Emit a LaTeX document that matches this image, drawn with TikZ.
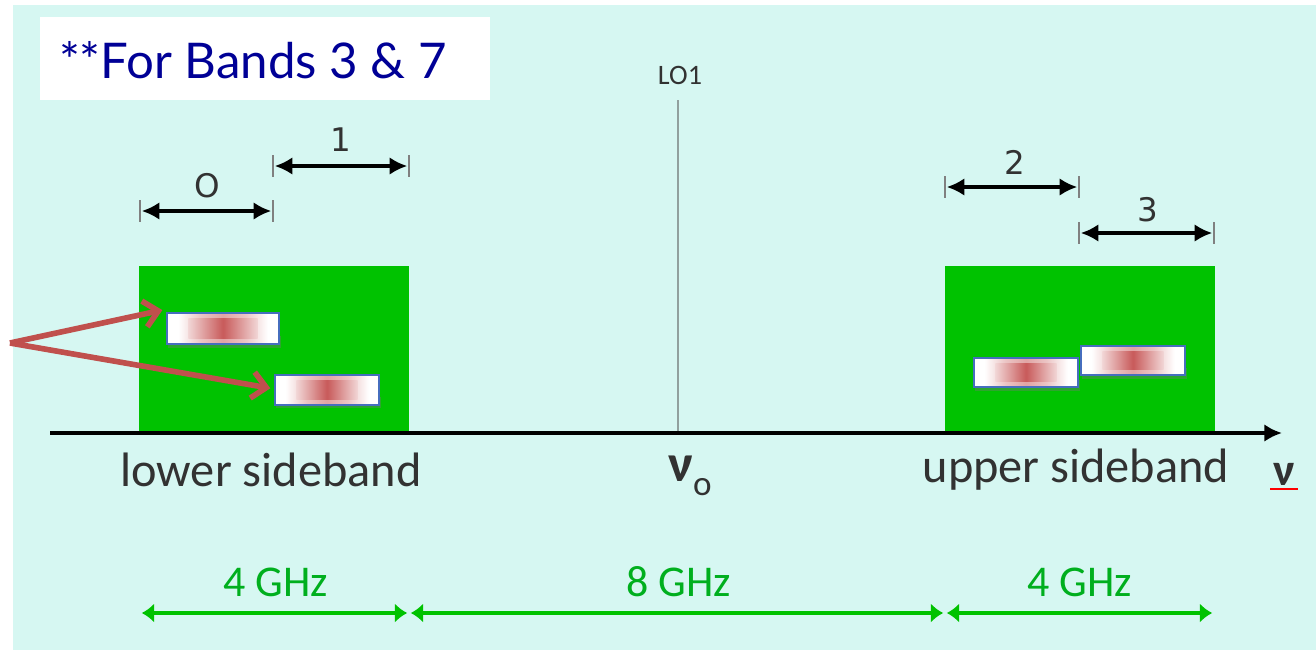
\documentclass[tikz,border=0pt]{standalone}
\usepackage{fontspec}
\setmainfont{Carlito}
\newfontfamily\titlefont{Lato}
\newfontfamily\numfont{DejaVu Sans}
\usetikzlibrary{arrows.meta}
\definecolor{bgcyan}{RGB}{214,247,242}
\definecolor{bandgreen}{RGB}{0,194,0}
\definecolor{ghzgreen}{RGB}{0,175,30}
\definecolor{titleblue}{RGB}{0,0,150}
\definecolor{arrowred}{RGB}{192,80,77}
\definecolor{boxblue}{RGB}{70,110,190}
\definecolor{lored}{RGB}{200,90,90}
\definecolor{logray}{RGB}{145,160,158}
\definecolor{txtgray}{RGB}{50,50,50}
\definecolor{shadowgreen}{RGB}{45,165,45}
\pgfdeclarehorizontalshading{sigouter}{100bp}{color(0bp)=(white); color(30bp)=(white); color(40bp)=(lored!35); color(50bp)=(lored!55); color(60bp)=(lored!35); color(70bp)=(white); color(100bp)=(white)}
\pgfdeclarehorizontalshading{siginner}{100bp}{color(0bp)=(lored!25); color(25bp)=(lored!25); color(40bp)=(lored!70); color(50bp)=(lored); color(60bp)=(lored!70); color(75bp)=(lored!25); color(100bp)=(lored!25)}
\tikzset{
  band/.style={fill=bandgreen, draw=none, minimum width=5.4cm, minimum height=3.32cm, inner sep=0pt},
  sig/.style={draw=boxblue, line width=1.3pt, minimum width=2.08cm, minimum height=0.6cm, inner sep=0pt,
    shading=sigouter},
  dimarrow/.style={{Latex[length=10pt,width=10pt]}-{Latex[length=10pt,width=10pt]}, line width=1.9pt, black, shorten <=1pt, shorten >=1pt},
  tick/.style={draw=gray, line width=0.8pt},
  ghzarrow/.style={{Latex[length=7pt,width=11pt]}-{Latex[length=7pt,width=11pt]}, line width=2.8pt, bandgreen, shorten <=1pt, shorten >=1pt},
  redarrow/.style={-{Straight Barb[length=8pt,width=15pt]}, line width=3.2pt, arrowred},
  lbl/.style={font=\fontsize{27.5}{30}\selectfont, text=txtgray, inner sep=0pt},
  num/.style={font=\numfont\fontsize{18.5}{20}\selectfont, text=txtgray, inner sep=0pt},
  ghz/.style={font=\fontsize{25}{28}\selectfont, text=ghzgreen, inner sep=0pt},
}
\newcommand\sigcore[1]{\shade[shading=siginner] ([xshift=0.45cm,yshift=-0.13cm]#1.north west) rectangle ([xshift=-0.45cm,yshift=0.13cm]#1.south east);}
\begin{document}
\begin{tikzpicture}[x=0.02cm,y=-0.02cm]
\useasboundingbox (0,0) rectangle (1316,650);
\fill[white] (0,0) rectangle (1316,650);
\fill[bgcyan] (13,5) rectangle (1316,650);
% title
\node[fill=white, minimum width=9.02cm, minimum height=1.66cm, inner sep=0pt] (title) at (265,58.5) {};
\node[font=\titlefont\fontsize{28}{32}\selectfont, text=titleblue, inner sep=0pt] (titletext) at (253,60) {**For Bands 3 \& 7};
% bands
\node[band] (lsb) at (274,349) {};
\node[band] (usb) at (1080,349) {};
% LO line
\coordinate (lotop) at (678,100);
\coordinate (lobot) at (678,433);
\draw[logray, line width=1.6pt] (lotop) -- (lobot);
\node[font=\fontsize{16}{18}\selectfont, text=txtgray, inner sep=0pt] (lo) at (680,75) {LO1};
% axis
\coordinate (ax0) at (50,433);
\coordinate (ax1) at (1282,433);
\draw[line width=2.6pt, -{Latex[length=10pt,width=10pt]}] (ax0) -- (ax1);
% signal boxes (with soft shadow)
\fill[shadowgreen] (168,336) rectangle (281,348);
\fill[shadowgreen] (276,397) rectangle (381,408);
\fill[shadowgreen] (975,380) rectangle (1080,391);
\fill[shadowgreen] (1082,368) rectangle (1187,379);
\node[sig, minimum width=2.24cm, minimum height=0.62cm] (sa) at (223,328.5) {};
\node[sig] (sb) at (327,390) {};
\node[sig, minimum height=0.58cm] (sc) at (1026,372.5) {};
\node[sig, minimum height=0.58cm] (sd) at (1133,360.5) {};
\sigcore{sa}\sigcore{sb}\sigcore{sc}\sigcore{sd}
% red arrows
\coordinate (src) at (10,343);
\draw[redarrow] (src) -- ([xshift=-2pt,yshift=1pt]sa.north west);
\draw[redarrow] (src) -- ([xshift=-2pt,yshift=1pt]sb.west);
% dimension arrows
\coordinate (d0a) at (140,211); \coordinate (d0b) at (273,211);
\coordinate (d1a) at (273,166); \coordinate (d1b) at (409,166);
\coordinate (d2a) at (945,187); \coordinate (d2b) at (1079,187);
\coordinate (d3a) at (1079,233); \coordinate (d3b) at (1214,233);
\foreach \c in {d0a,d0b,d1a,d1b,d2a,d2b,d3a,d3b}
  \draw[tick] ([yshift=6pt]\c) -- ([yshift=-6pt]\c);
\draw[dimarrow] (d0a) -- (d0b);
\draw[dimarrow] (d1a) -- (d1b);
\draw[dimarrow] (d2a) -- (d2b);
\draw[dimarrow] (d3a) -- (d3b);
\node[num] (n0) at (207,186) {O};
\node[num] (n1) at (341,140) {1};
\node[num] (n2) at (1015,162) {2};
\node[num] (n3) at (1148,210) {3};
% axis labels
\node[lbl] (lsbl) at (271,470) {lower sideband};
\node[lbl] (nu0) at (690,476) {\fontsize{30}{32}\selectfont\bfseries ν\raisebox{-0.55ex}{\fontsize{20}{22}\selectfont\mdseries o}};
\node[lbl] (usbl) at (1076,470) {upper sideband};
\node[lbl] (nu) at (1284,474) {\fontsize{26}{28}\selectfont\bfseries ν};
\coordinate (ula) at (1270,489); \coordinate (ulb) at (1298,489);
\draw[red, line width=1.6pt] (ula) -- (ulb);
% GHz arrows
\coordinate (g0) at (140,613); \coordinate (g1) at (409,613);
\coordinate (g2) at (945,613); \coordinate (g3) at (1214,613);
\draw[ghzarrow] (g0) -- (g1);
\draw[ghzarrow] (g1) -- (g2);
\draw[ghzarrow] (g2) -- (g3);
\node[ghz] (ghz0) at (276,582) {4 GHz};
\node[ghz] (ghz1) at (679,582) {8 GHz};
\node[ghz] (ghz2) at (1080,582) {4 GHz};
\end{tikzpicture}
\end{document}
